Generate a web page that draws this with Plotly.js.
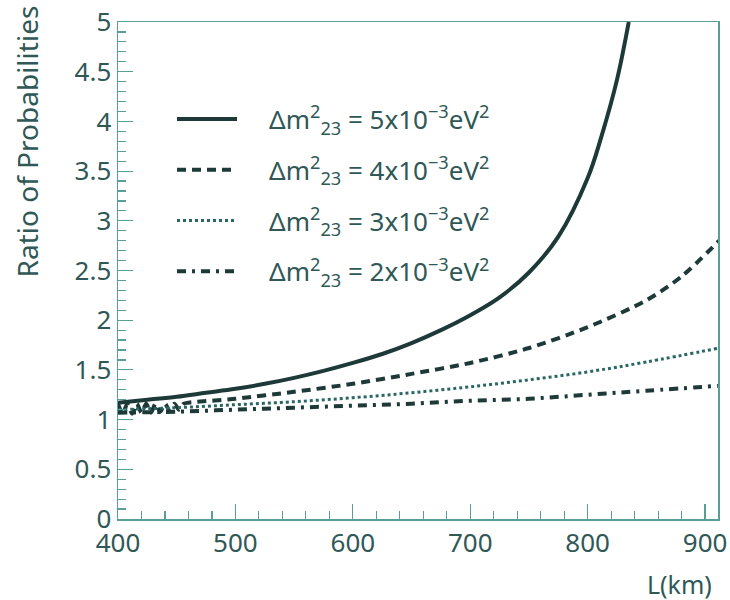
<!DOCTYPE html>
<html>
<head>
<meta charset="utf-8">
<script src="https://cdn.plot.ly/plotly-3.0.1.min.js"></script>
<style>html,body{margin:0;padding:0;background:#fff;}#chart{width:730px;height:600px;}</style>
</head>
<body>
<div id="chart"></div>
<script>
// Series names
var seriesNames = [
  '\u00a0\u00a0\u00a0\u00a0Δm<sup>2</sup><sub>23</sub> = 5x10<sup>−3</sup>eV<sup>2</sup>',
  '\u00a0\u00a0\u00a0\u00a0Δm<sup>2</sup><sub>23</sub> = 4x10<sup>−3</sup>eV<sup>2</sup>',
  '\u00a0\u00a0\u00a0\u00a0Δm<sup>2</sup><sub>23</sub> = 3x10<sup>−3</sup>eV<sup>2</sup>',
  '\u00a0\u00a0\u00a0\u00a0Δm<sup>2</sup><sub>23</sub> = 2x10<sup>−3</sup>eV<sup>2</sup>'
];

// Δm² = 5e-3 (solid)
var L5 = [400, 425, 450, 475, 500, 525, 550, 575, 600, 625, 650, 675, 700, 725, 750, 775, 800, 812, 825, 835];
var R5 = [1.17, 1.20, 1.23, 1.27, 1.31, 1.36, 1.42, 1.49, 1.57, 1.66, 1.77, 1.90, 2.05, 2.23, 2.48, 2.84, 3.43, 3.86, 4.42, 5.00];

// Δm² = 4e-3 (dashed), with the short-baseline wiggles
var L4 = [400, 404, 408, 412, 416, 420, 424, 428, 432, 436, 440, 444, 448, 452, 456, 460, 500, 550, 600, 650, 700, 750, 800, 850, 880, 912];
var R4 = [1.16, 1.06, 1.16, 1.06, 1.16, 1.07, 1.16, 1.07, 1.16, 1.08, 1.16, 1.09, 1.16, 1.10, 1.16, 1.17, 1.21, 1.28, 1.36, 1.46, 1.57, 1.72, 1.93, 2.20, 2.44, 2.80];

// Δm² = 3e-3 (dotted)
var L3 = [400, 450, 500, 550, 600, 650, 700, 750, 800, 850, 912];
var R3 = [1.10, 1.12, 1.15, 1.18, 1.22, 1.27, 1.33, 1.40, 1.48, 1.58, 1.72];

// Δm² = 2e-3 (dash-dot)
var L2 = [400, 450, 500, 550, 600, 650, 700, 750, 800, 850, 912];
var R2 = [1.07, 1.08, 1.10, 1.12, 1.14, 1.16, 1.19, 1.21, 1.25, 1.29, 1.34];

var xTickVals = [400, 500, 600, 700, 800, 900];
var yTickVals = [0, 0.5, 1, 1.5, 2, 2.5, 3, 3.5, 4, 4.5, 5];
var yTickText = ['0', '0.5', '1', '1.5', '2', '2.5', '3', '3.5', '4', '4.5', '5'];

var lineCol = '#1d3a39';
var axisCol = '#5a9e98';
var textCol = '#2f5856';
var fontFam = 'Noto Sans, DejaVu Sans, sans-serif';

var traces = [
  {x: L5, y: R5, name: seriesNames[0], mode: 'lines', line: {color: lineCol, width: 4, shape: 'spline'}, legendgroup: 'a'},
  {x: L4, y: R4, name: seriesNames[1], mode: 'lines', line: {color: lineCol, width: 4, dash: '9px,6px', shape: 'spline', smoothing: 0.8}, legendgroup: 'b'},
  {x: L3, y: R3, name: seriesNames[2], mode: 'lines', line: {color: '#2a6663', width: 3, dash: '3px,3px', shape: 'spline'}, legendgroup: 'c'},
  {x: L2, y: R2, name: seriesNames[3], mode: 'lines', line: {color: lineCol, width: 4, dash: '9px,6px,3px,6px', shape: 'spline'}, legendgroup: 'd'}
];

var layout = {
  width: 730, height: 600,
  margin: {l: 118, r: 12, t: 22, b: 81},
  paper_bgcolor: '#fff', plot_bgcolor: '#fff',
  font: {family: fontFam, color: textCol, size: 26},
  showlegend: true,
  legend: {
    x: 0.09, y: 0.852, xanchor: 'left', yanchor: 'top',
    bgcolor: 'rgba(0,0,0,0)', font: {size: 26, color: textCol, family: fontFam},
    itemwidth: 60, tracegroupgap: 14, traceorder: 'grouped'
  },
  xaxis: {
    range: [400, 911], tickmode: 'array', tickvals: xTickVals,
    ticks: 'inside', ticklen: 15, tickwidth: 1.2, tickcolor: axisCol,
    showline: true, linecolor: axisCol, linewidth: 1.5, mirror: true,
    showgrid: false, zeroline: false,
    minor: {dtick: 20, tick0: 400, ticks: 'inside', ticklen: 8, tickcolor: axisCol, tickwidth: 1.2, showgrid: false},
    tickfont: {size: 26, color: textCol}
  },
  yaxis: {
    range: [0, 5], tickmode: 'array', tickvals: yTickVals, ticktext: yTickText,
    ticks: 'inside', ticklen: 15, tickwidth: 1.2, tickcolor: axisCol,
    showline: true, linecolor: axisCol, linewidth: 1.5, mirror: true,
    showgrid: false, zeroline: false,
    minor: {dtick: 0.1, tick0: 0, ticks: 'inside', ticklen: 8, tickcolor: axisCol, tickwidth: 1.2, showgrid: false},
    tickfont: {size: 26, color: textCol}
  },
  annotations: [
    {text: 'Ratio of Probabilities', xref: 'paper', yref: 'paper', x: -0.152, y: 1.037, xanchor: 'center', yanchor: 'top',
     textangle: -90, showarrow: false, font: {size: 28, color: textCol, family: fontFam}},
    {text: 'L(km)', xref: 'paper', yref: 'paper', x: 0.993, y: -0.093, xanchor: 'right', yanchor: 'top',
     showarrow: false, font: {size: 25, color: textCol, family: fontFam}}
  ]
};

Plotly.newPlot('chart', traces, layout, {displayModeBar: false, staticPlot: true});
</script>
</body>
</html>
